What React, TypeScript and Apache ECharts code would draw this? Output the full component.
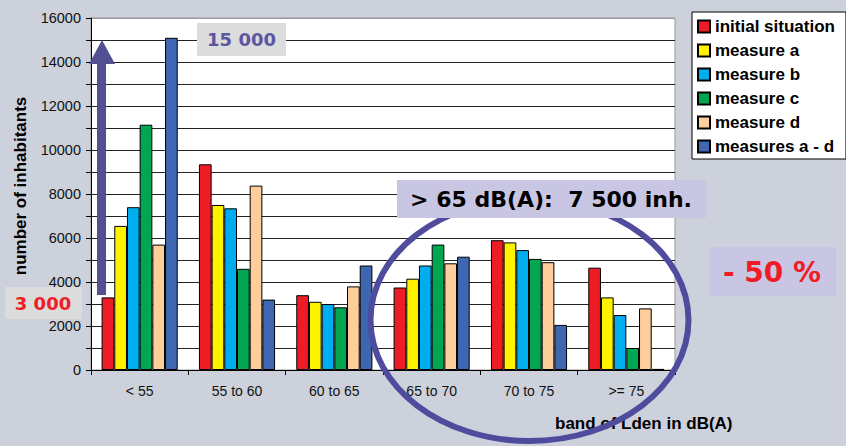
import React, { useEffect, useRef } from "react";
import * as echarts from "echarts";

const categories = ["< 55", "55 to 60", "60 to 65", "65 to 70", "70 to 75", ">= 75"];
const initialSituation = [3300, 9350, 3400, 3750, 5900, 4650];
const measureA = [6550, 7500, 3100, 4150, 5800, 3300];
const measureB = [7400, 7350, 3000, 4750, 5450, 2500];
const measureC = [11150, 4600, 2850, 5700, 5050, 1000];
const measureD = [5700, 8380, 3800, 4850, 4900, 2800];
const measuresAD = [15100, 3200, 4750, 5150, 2050, 50];

const seriesNames = ["initial situation", "measure a", "measure b", "measure c", "measure d", "measures a - d"];
const seriesValues = [initialSituation, measureA, measureB, measureC, measureD, measuresAD];
const seriesColors = ["#ee1c25", "#fff200", "#00aeef", "#00a651", "#fdcd9b", "#3f67b1"];

const yMin = 0;
const yMax = 16000;
const yInterval = 1000;

const ANNOT = "'DejaVu Sans', Verdana, sans-serif";
const ARIAL = "'Liberation Sans', Arial, sans-serif";

export default function App() {
  const ref = useRef<HTMLDivElement>(null);
  useEffect(() => {
    document.body.style.margin = "0";
    if (!ref.current) return;
    const chart = echarts.init(ref.current, null, { renderer: "svg" });
    const splitColors: string[] = [];
    for (let v = yMin; v <= yMax; v += yInterval) splitColors.push(v === yMax ? "#9a9a9a" : "#222222");
    chart.setOption({
      animation: false,
      backgroundColor: "#cdd1dc",
      grid: {
        left: 91,
        top: 18,
        right: 171,
        bottom: 76,
        show: true,
        backgroundColor: "#ffffff",
        borderColor: "#9a9a9a",
        borderWidth: 1,
      },
      legend: {
        orient: "vertical",
        left: 692,
        top: 12,
        backgroundColor: "#ffffff",
        borderColor: "#000000",
        borderWidth: 1,
        padding: [6, 11, 4, 5],
        itemWidth: 12,
        itemHeight: 12,
        itemGap: 7,
        icon: "rect",
        textStyle: { fontFamily: ARIAL, fontWeight: "bold", fontSize: 17, lineHeight: 17, color: "#000" },
        data: seriesNames,
      },
      xAxis: {
        type: "category",
        data: categories,
        axisLine: { lineStyle: { color: "#000", width: 1 } },
        axisTick: { show: true, length: 5, lineStyle: { color: "#000" } },
        axisLabel: { fontFamily: ARIAL, fontSize: 14, color: "#111", margin: 14 },
        splitLine: { show: false },
      },
      yAxis: {
        type: "value",
        min: yMin,
        max: yMax,
        interval: yInterval,
        axisLine: { show: true, lineStyle: { color: "#000", width: 1 } },
        axisTick: { show: true, length: 5, lineStyle: { color: "#000" } },
        axisLabel: {
          fontFamily: ARIAL,
          fontSize: 14.5,
          color: "#111",
          margin: 10,
          formatter: (v: number) => (v % 2000 === 0 ? String(v) : ""),
        },
        splitLine: { show: true, lineStyle: { color: splitColors, width: 1 } },
      },
      series: seriesNames.map((name, i) => ({
        name,
        type: "bar",
        data: seriesValues[i],
        barGap: "0%",
        barCategoryGap: "21.8%",
        itemStyle: { color: seriesColors[i], borderColor: "#000", borderWidth: 1 },
      })),
      graphic: [
        {
          type: "text",
          z: 50,
          x: 20,
          y: 186,
          rotation: Math.PI / 2,
          style: {
            text: "number of inhabitants",
            font: `bold 17px ${ARIAL}`,
            fill: "#000",
            align: "center",
            verticalAlign: "middle",
          },
        },
        {
          type: "text",
          z: 50,
          x: 555,
          y: 423,
          style: {
            text: "band of Lden in dB(A)",
            font: `bold 17px ${ARIAL}`,
            fill: "#000",
            align: "left",
            verticalAlign: "middle",
          },
        },
        {
          type: "polygon",
          z: 100,
          shape: {
            points: [
              [97, 295],
              [97, 64],
              [89, 64],
              [102, 40],
              [115, 64],
              [106, 64],
              [106, 295],
            ],
          },
          style: { fill: "#524f93" },
        },
        {
          type: "rect",
          z: 100,
          shape: { x: 197, y: 23, width: 89, height: 33 },
          style: { fill: "#dcdcdc" },
        },
        {
          type: "text",
          z: 101,
          x: 241.5,
          y: 39.5,
          style: {
            text: "15 000",
            font: `bold 18px ${ANNOT}`,
            fill: "#5b56a0",
            align: "center",
            verticalAlign: "middle",
          },
        },
        {
          type: "rect",
          z: 100,
          shape: { x: 5, y: 287, width: 77, height: 32 },
          style: { fill: "#dcdcdc" },
        },
        {
          type: "text",
          z: 101,
          x: 43,
          y: 303,
          style: {
            text: "3 000",
            font: `bold 18px ${ANNOT}`,
            fill: "#ee1c25",
            align: "center",
            verticalAlign: "middle",
          },
        },
        {
          type: "ellipse",
          z: 100,
          shape: { cx: 529.5, cy: 320, rx: 159, ry: 121 },
          style: { fill: "none", stroke: "#4f4b9d", lineWidth: 6 },
        },
        {
          type: "rect",
          z: 102,
          shape: { x: 397, y: 180, width: 309, height: 38 },
          style: { fill: "#c8c6e2" },
        },
        {
          type: "text",
          z: 103,
          x: 551,
          y: 199,
          style: {
            text: "> 65 dB(A):  7 500 inh.",
            font: `bold 22px ${ANNOT}`,
            fill: "#000",
            align: "center",
            verticalAlign: "middle",
          },
        },
        {
          type: "rect",
          z: 100,
          shape: { x: 709, y: 247, width: 127, height: 49 },
          style: { fill: "#c8c6e2" },
        },
        {
          type: "text",
          z: 101,
          x: 772,
          y: 272,
          style: {
            text: "- 50 %",
            font: `bold 28px ${ANNOT}`,
            fill: "#ee1c25",
            align: "center",
            verticalAlign: "middle",
          },
        },
      ],
    });
    return () => chart.dispose();
  }, []);
  return <div ref={ref} style={{ width: 846, height: 446 }} />;
}
